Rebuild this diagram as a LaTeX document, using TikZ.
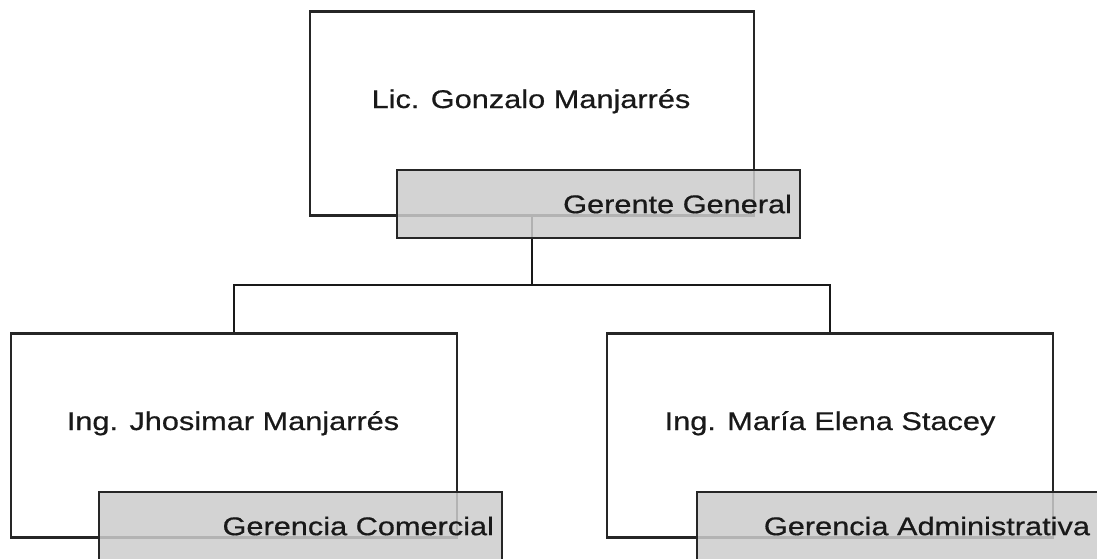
\documentclass[tikz,border=0pt]{standalone}
\usepackage{fontspec}
\setmainfont{Liberation Sans}[FakeStretch=1.2, FakeBold=0.6]
\begin{document}
\begin{tikzpicture}[x=1pt,y=-1pt,
  every node/.style={font=\fontsize{25.6}{30}\selectfont, text=black!90},
  personbox/.style={draw=black!85, line width=2.4pt, fill=white, rectangle,
    minimum width=#1, minimum height=204, inner sep=0pt},
  rolebox/.style={draw=black!85, line width=2.4pt, fill=black!20, fill opacity=0.85,
    text opacity=1, rectangle, minimum width=403, minimum height=68,
    inner xsep=8pt, inner ysep=0pt, text width=387, align=right},
  link/.style={draw=black!90, line width=2.4pt},
  personname/.style={anchor=base, inner sep=0pt}]
\useasboundingbox (0,0) rectangle (1097,558);
\clip (0,0) rectangle (1097,558);

% head of the organisation
\node[personbox=444] (gm) at (532,113.5) {};
\node[personname] (gmname) at (531,108) {Lic. Gonzalo Manjarrés};

% two departments
\node[personbox=446] (com) at (234,435.5) {};
\node[personname] (comname) at (233,430) {Ing. Jhosimar Manjarrés};
\node[personbox=446] (adm) at (830,435.5) {};
\node[personname] (admname) at (830,430) {Ing. María Elena Stacey};

% reporting lines
\coordinate (split) at (532,285);
\draw[link] (gm.south) -- (split);
\draw[link] (com.north) |- (split) -| (adm.north);

% role captions, drawn over the boxes
\node[rolebox] (gmrole) at (598.5,204) {Gerente General};
\node[rolebox] (comrole) at (300.5,526) {Gerencia Comercial};
\node[rolebox, inner xsep=10pt, text width=383] (admrole) at (898.5,526) {Gerencia Administrativa};
\end{tikzpicture}
\end{document}
